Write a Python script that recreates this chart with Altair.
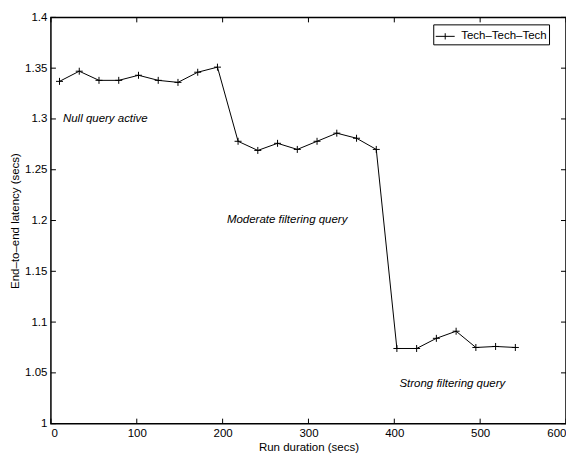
import altair as alt
import pandas as pd

# ---- data ----
run_duration = [10, 33, 56, 79, 102, 125, 148, 171, 194, 218, 241, 264,
                287, 310, 333, 356, 379, 403, 426, 449, 472, 495, 518, 541]
latency = [1.337, 1.347, 1.338, 1.338, 1.343, 1.338, 1.336, 1.346, 1.351,
           1.278, 1.269, 1.276, 1.270, 1.278, 1.286, 1.281, 1.270,
           1.074, 1.074, 1.084, 1.091, 1.075, 1.076, 1.075]
series_name = "Tech\u2013Tech\u2013Tech"

note_text = ["Null query active", "Moderate filtering query", "Strong filtering query"]
note_x = [14, 205, 406]
note_y = [1.300, 1.2005, 1.0393]

x_ticks = [0, 100, 200, 300, 400, 500, 600]
y_ticks = [1.0, 1.05, 1.1, 1.15, 1.2, 1.25, 1.3, 1.35, 1.4]

FONT = "Liberation Sans"
FS = 11.5
W, H = 516, 407
TICK = 5

df = pd.DataFrame({"t": run_duration, "lat": latency, "series": series_name})
notes = pd.DataFrame({"text": note_text, "x": note_x, "y": note_y})
xt = pd.DataFrame({"v": x_ticks})
yt = pd.DataFrame({"v": y_ticks})

xs = alt.Scale(domain=[0, 600], nice=False, zero=False)
ys = alt.Scale(domain=[1.0, 1.4], nice=False, zero=False)

x_axis = alt.Axis(values=x_ticks, ticks=False, grid=False, domain=False,
                  labelPadding=4, title="Run duration (secs)", titlePadding=2,
                  labelFontSize=FS, titleFontSize=FS, titleFontWeight="normal",
                  labelColor="black", titleColor="black", labelFont=FONT, titleFont=FONT)
y_axis = alt.Axis(values=y_ticks, ticks=False, grid=False, domain=False, format="~g",
                  labelPadding=4, title="End\u2013to\u2013end latency (secs)", titlePadding=4,
                  labelFontSize=FS, titleFontSize=FS, titleFontWeight="normal",
                  labelColor="black", titleColor="black", labelFont=FONT, titleFont=FONT)

line = alt.Chart(df).mark_line(strokeWidth=1).encode(
    x=alt.X("t:Q", scale=xs, axis=x_axis),
    y=alt.Y("lat:Q", scale=ys, axis=y_axis),
    stroke=alt.Stroke("series:N", scale=alt.Scale(range=["black"]),
                      legend=alt.Legend(title=None, orient="none", legendX=383, legendY=7,
                                        strokeColor="black", fillColor="white", padding=2,
                                        cornerRadius=0,
                                        symbolType="M-1,0H1M0,-0.33V0.33",
                                        symbolSize=361, symbolStrokeWidth=1,
                                        symbolStrokeColor="black",
                                        symbolFillColor="transparent",
                                        labelFontSize=FS, labelFont=FONT,
                                        labelColor="black", labelOffset=6)),
)

pts = alt.Chart(df).mark_point(shape="M-1,0H1M0,-1V1", size=49, filled=False,
                               strokeWidth=1, color="black", opacity=1).encode(
    x=alt.X("t:Q", scale=xs),
    y=alt.Y("lat:Q", scale=ys),
)

text = alt.Chart(notes).mark_text(align="left", baseline="middle", fontStyle="italic",
                                  fontSize=FS, font=FONT, color="black").encode(
    x=alt.X("x:Q", scale=xs),
    y=alt.Y("y:Q", scale=ys),
    text="text:N",
)

# inward ticks on all four sides
tb = alt.Chart(xt).mark_rule(color="black", strokeWidth=1).encode(
    x=alt.X("v:Q", scale=xs), y=alt.value(H), y2=alt.value(H - TICK))
tt = alt.Chart(xt).mark_rule(color="black", strokeWidth=1).encode(
    x=alt.X("v:Q", scale=xs), y=alt.value(0), y2=alt.value(TICK))
tl = alt.Chart(yt).mark_rule(color="black", strokeWidth=1).encode(
    y=alt.Y("v:Q", scale=ys), x=alt.value(0), x2=alt.value(TICK))
tr = alt.Chart(yt).mark_rule(color="black", strokeWidth=1).encode(
    y=alt.Y("v:Q", scale=ys), x=alt.value(W), x2=alt.value(W - TICK))

chart = alt.layer(tb, tt, tl, tr, line, pts, text).properties(
    width=W, height=H,
    autosize=alt.AutoSizeParams(type="none"),
    padding={"left": 43, "top": 9, "right": 0, "bottom": 30},
    background="white",
).configure_view(stroke="black", strokeWidth=1.5)

chart.save("out.html", embed_options={"renderer": "svg", "actions": False})
